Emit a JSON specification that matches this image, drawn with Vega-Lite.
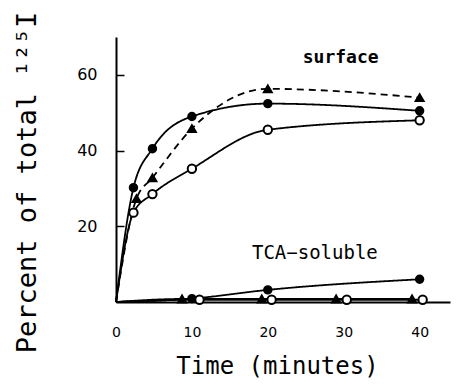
{
  "$schema": "https://vega.github.io/schema/vega-lite/v6.json",
  "width": 334,
  "height": 265,
  "autosize": "none",
  "padding": {"left": 116, "top": 37, "right": 6, "bottom": 83},
  "background": "white",
  "config": {"view": {"stroke": null}},
  "datasets": {
    "obs": [
      {"fraction": "surface", "marker": "filled", "t": 0, "v": 0},
      {"fraction": "surface", "marker": "filled", "t": 2.3, "v": 30.2},
      {"fraction": "surface", "marker": "filled", "t": 4.8, "v": 40.5},
      {"fraction": "surface", "marker": "filled", "t": 10, "v": 49},
      {"fraction": "surface", "marker": "filled", "t": 20, "v": 52.4},
      {"fraction": "surface", "marker": "filled", "t": 40, "v": 50.5},
      {"fraction": "surface", "marker": "triangle", "t": 0, "v": 0},
      {"fraction": "surface", "marker": "triangle", "t": 2.7, "v": 27.3},
      {"fraction": "surface", "marker": "triangle", "t": 4.8, "v": 32.8},
      {"fraction": "surface", "marker": "triangle", "t": 10, "v": 45.8},
      {"fraction": "surface", "marker": "triangle", "t": 20, "v": 56.3},
      {"fraction": "surface", "marker": "triangle", "t": 40, "v": 54},
      {"fraction": "surface", "marker": "open", "t": 0, "v": 0},
      {"fraction": "surface", "marker": "open", "t": 2.3, "v": 23.6},
      {"fraction": "surface", "marker": "open", "t": 4.8, "v": 28.5},
      {"fraction": "surface", "marker": "open", "t": 10, "v": 35.2},
      {"fraction": "surface", "marker": "open", "t": 20, "v": 45.5},
      {"fraction": "surface", "marker": "open", "t": 40, "v": 48},
      {"fraction": "TCA", "marker": "filled", "t": 0, "v": 0},
      {"fraction": "TCA", "marker": "filled", "t": 10, "v": 0.9},
      {"fraction": "TCA", "marker": "filled", "t": 20, "v": 3.2},
      {"fraction": "TCA", "marker": "filled", "t": 40, "v": 6},
      {"fraction": "TCA", "marker": "triangle", "t": 0, "v": 0},
      {"fraction": "TCA", "marker": "triangle", "t": 8.7, "v": 0.8},
      {"fraction": "TCA", "marker": "triangle", "t": 19.2, "v": 0.8},
      {"fraction": "TCA", "marker": "triangle", "t": 29, "v": 0.8},
      {"fraction": "TCA", "marker": "triangle", "t": 39, "v": 0.8},
      {"fraction": "TCA", "marker": "open", "t": 0, "v": 0},
      {"fraction": "TCA", "marker": "open", "t": 11, "v": 0.6},
      {"fraction": "TCA", "marker": "open", "t": 20.5, "v": 0.6},
      {"fraction": "TCA", "marker": "open", "t": 30.4, "v": 0.6},
      {"fraction": "TCA", "marker": "open", "t": 40.4, "v": 0.6}
    ],
    "labels": [
      {"text": "surface", "t": 29.6, "v": 64.5, "bold": "yes"},
      {"text": "TCA\u2212soluble", "t": 26.2, "v": 13, "bold": "no"}
    ]
  },
  "encoding": {
    "x": {
      "field": "t", "type": "quantitative",
      "scale": {"domain": [0, 44], "nice": false, "zero": false},
      "axis": {
        "values": [0, 10, 20, 30, 40], "ticks": false, "grid": false,
        "domainColor": "black", "domainWidth": 2,
        "labelFont": "DejaVu Sans", "labelFontSize": 14, "labelColor": "black",
        "labelPadding": 23, "labelFlush": false,
        "title": "Time (minutes)", "titleFont": "DejaVu Sans Mono", "titleFontSize": 24,
        "titleFontWeight": "normal", "titleColor": "black",
        "titleX": 161, "titleY": 64, "titleBaseline": "middle", "titleAlign": "center"
      }
    },
    "y": {
      "field": "v", "type": "quantitative",
      "scale": {"domain": [0, 70], "nice": false},
      "axis": {
        "values": [20, 40, 60], "grid": false,
        "tickSize": -8, "tickWidth": 1.5, "tickColor": "black",
        "domainColor": "black", "domainWidth": 2,
        "labelFont": "DejaVu Sans", "labelFontSize": 16, "labelColor": "black",
        "labelPadding": 27,
        "title": "Percent of total \u00b9\u00b2\u2075I", "titleFont": "DejaVu Sans Mono", "titleFontSize": 27,
        "titleFontWeight": "normal", "titleColor": "black",
        "titleAngle": 270, "titleX": -89, "titleY": 145,
        "titleBaseline": "middle", "titleAlign": "center"
      }
    }
  },
  "layer": [
    {
      "data": {"name": "obs"},
      "transform": [
        {"calculate": "datum.fraction == 'surface' && datum.marker == 'triangle' ? 'surface-triangle' : 'other'", "as": "curve"},
        {"calculate": "datum.fraction + '-' + datum.marker", "as": "series"}
      ],
      "mark": {"type": "line", "interpolate": "monotone", "strokeWidth": 1.8, "color": "black"},
      "encoding": {
        "detail": {"field": "series"},
        "strokeDash": {
          "field": "curve", "type": "nominal",
          "scale": {"domain": ["surface-triangle", "other"], "range": [[7, 5], [1, 0]]},
          "legend": null
        },
        "order": {"field": "t", "type": "quantitative"}
      }
    },
    {
      "data": {"name": "obs"},
      "transform": [{"filter": "datum.t > 0"}],
      "mark": {"type": "point", "filled": false, "opacity": 1, "strokeWidth": 2, "stroke": "black"},
      "encoding": {
        "shape": {
          "field": "marker", "type": "nominal",
          "scale": {"domain": ["filled", "triangle", "open"], "range": ["circle", "triangle-up", "circle"]},
          "legend": null
        },
        "fill": {
          "field": "marker", "type": "nominal",
          "scale": {"domain": ["filled", "triangle", "open"], "range": ["black", "black", "white"]},
          "legend": null
        },
        "size": {
          "field": "marker", "type": "nominal",
          "scale": {"domain": ["filled", "triangle", "open"], "range": [55, 70, 38]},
          "legend": null
        }
      }
    },
    {
      "data": {"name": "labels"},
      "transform": [{"filter": "datum.bold == 'yes'"}],
      "mark": {"type": "text", "font": "DejaVu Sans Mono", "fontWeight": "bold", "fontSize": 18, "color": "black", "align": "center", "baseline": "middle"},
      "encoding": {"text": {"field": "text"}}
    },
    {
      "data": {"name": "labels"},
      "transform": [{"filter": "datum.bold == 'no'"}],
      "mark": {"type": "text", "font": "DejaVu Sans Mono", "fontSize": 19, "color": "black", "align": "center", "baseline": "middle"},
      "encoding": {"text": {"field": "text"}}
    }
  ]
}
